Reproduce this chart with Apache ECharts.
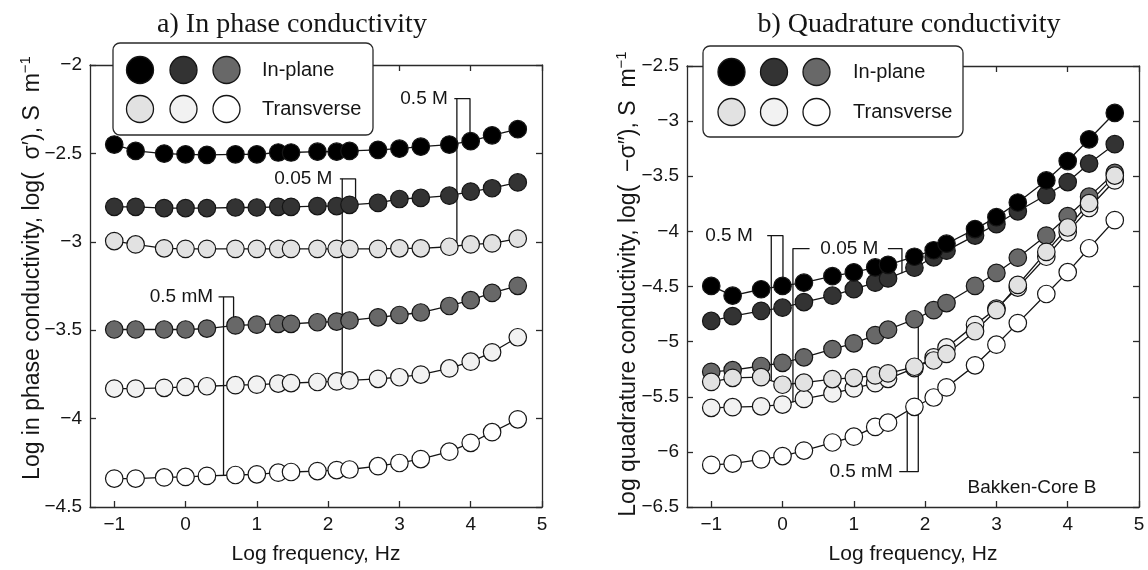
<!DOCTYPE html>
<html>
<head>
<meta charset="utf-8">
<script src="https://cdn.jsdelivr.net/npm/echarts@6/dist/echarts.min.js"></script>
<style>
  html, body { margin: 0; padding: 0; background: #fff; }
  #chart { width: 1148px; height: 570px; }
</style>
</head>
<body>
<div id="chart"></div>
<script>
// Log frequency (Hz) of the spectral measurements
const logFreq = [-1, -0.7, -0.3, 0, 0.3, 0.7, 1, 1.3, 1.48, 1.85, 2.12, 2.3, 2.7, 3, 3.3, 3.7, 4, 4.3, 4.66];
const xTickValues = [-1, 0, 1, 2, 3, 4, 5];

// a) In phase conductivity, log(sigma'), S/m
const phaseInPlane05M   = [-2.450, -2.486, -2.501, -2.505, -2.508, -2.505, -2.505, -2.495, -2.495, -2.490, -2.490, -2.486, -2.480, -2.473, -2.462, -2.450, -2.431, -2.398, -2.363];
const phaseInPlane005M  = [-2.802, -2.802, -2.809, -2.809, -2.809, -2.806, -2.806, -2.802, -2.802, -2.798, -2.798, -2.791, -2.780, -2.758, -2.752, -2.739, -2.716, -2.697, -2.664];
const phaseInPlane05mM  = [-3.496, -3.496, -3.496, -3.496, -3.491, -3.473, -3.469, -3.464, -3.464, -3.455, -3.451, -3.445, -3.427, -3.414, -3.400, -3.363, -3.330, -3.289, -3.249];
const phaseTransv05M    = [-2.996, -3.015, -3.037, -3.040, -3.040, -3.040, -3.040, -3.040, -3.040, -3.040, -3.040, -3.040, -3.040, -3.037, -3.037, -3.028, -3.015, -3.009, -2.982];
const phaseTransv005M   = [-3.830, -3.830, -3.826, -3.821, -3.817, -3.811, -3.808, -3.802, -3.799, -3.793, -3.790, -3.784, -3.775, -3.766, -3.751, -3.716, -3.678, -3.625, -3.540];
const phaseTransv05mM   = [-4.339, -4.339, -4.333, -4.330, -4.324, -4.319, -4.315, -4.306, -4.302, -4.297, -4.291, -4.288, -4.269, -4.251, -4.229, -4.187, -4.137, -4.077, -4.004];

// b) Quadrature conductivity, log(-sigma''), S/m
const quadInPlane05M    = [-4.495, -4.583, -4.525, -4.495, -4.465, -4.406, -4.371, -4.327, -4.303, -4.230, -4.171, -4.112, -3.979, -3.871, -3.738, -3.538, -3.362, -3.165, -2.926];
const quadInPlane005M   = [-4.812, -4.768, -4.721, -4.692, -4.641, -4.583, -4.524, -4.465, -4.427, -4.330, -4.235, -4.175, -4.038, -3.935, -3.818, -3.670, -3.553, -3.385, -3.209];
const quadInPlane05mM   = [-5.274, -5.259, -5.221, -5.192, -5.142, -5.068, -5.015, -4.941, -4.892, -4.797, -4.715, -4.650, -4.495, -4.377, -4.239, -4.038, -3.862, -3.685, -3.470];
const quadTransv05M     = [-5.365, -5.328, -5.322, -5.391, -5.372, -5.340, -5.328, -5.307, -5.288, -5.228, -5.171, -5.112, -4.906, -4.715, -4.486, -4.186, -3.965, -3.744, -3.494];
const quadTransv005M    = [-5.600, -5.595, -5.587, -5.571, -5.520, -5.470, -5.424, -5.377, -5.337, -5.240, -5.142, -5.053, -4.848, -4.700, -4.510, -4.230, -4.009, -3.788, -3.538];
const quadTransv05mM    = [-6.118, -6.106, -6.068, -6.038, -5.988, -5.915, -5.862, -5.774, -5.735, -5.591, -5.507, -5.415, -5.215, -5.028, -4.832, -4.568, -4.370, -4.153, -3.898];

// Salinity brackets (data units): text anchor plus the bracket polylines
const bracketsPhase = [
  { text: '0.5 M',  anchor: [3.77, -2.19],   gap: 6, paths: [[[3.77, -2.19], [3.99, -2.19], [3.99, -2.43]], [[3.806, -2.19], [3.806, -3.028]]] },
  { text: '0.05 M', anchor: [2.165, -2.644], gap: 7, paths: [[[2.165, -2.644], [2.385, -2.644], [2.385, -2.79]], [[2.198, -2.644], [2.198, -3.79]]] },
  { text: '0.5 mM', anchor: [0.463, -3.312], gap: 5, paths: [[[0.463, -3.312], [0.674, -3.312], [0.674, -3.47]], [[0.533, -3.312], [0.533, -4.32]]] }
];
const bracketsQuad = [
  { text: '0.5 M',  anchor: [-0.215, -4.038], gap: 14, paths: [[[-0.215, -4.038], [0.006, -4.038], [0.006, -4.49]], [[-0.158, -4.038], [-0.158, -5.347]]] },
  { text: '0.05 M', anchor: [1.478, -4.156],  gap: 9,  paths: [[[0.146, -5.55], [0.146, -4.156], [0.379, -4.156]], [[1.478, -4.156], [1.675, -4.156], [1.675, -4.38]]] },
  { text: '0.5 mM', anchor: [1.637, -6.18],   gap: 6,  paths: [[[1.637, -6.18], [1.904, -6.18], [1.904, -4.797]], [[1.749, -6.18], [1.749, -5.63]]] }
];

const SANS = '"Liberation Sans", Arial, Helvetica, sans-serif';
const SERIF = '"Liberation Serif", "Times New Roman", serif';
const INK = '#151515';
const AXIS = '#2a2a2a';

// marker fills, in-plane (dark) and transverse (light)
const FILL = {
  ip05M: '#000000', ip005M: '#333333', ip05mM: '#686868',
  tr05M: '#e2e2e2', tr005M: '#f2f2f2', tr05mM: '#ffffff'
};

const minusFmt = v => (v < 0 ? '\u2212' + Math.abs(v) : String(v));

function xAxesFor(grid) {
  const base = {
    type: 'value', gridIndex: grid, min: -1.34, max: 5,
    axisLine: { show: true, onZero: false, lineStyle: { color: AXIS, width: 1.3 } },
    axisTick: { show: true, inside: true, length: 6, customValues: xTickValues, lineStyle: { color: AXIS, width: 1.3 } },
    splitLine: { show: false }
  };
  return [
    Object.assign({}, base, {
      position: 'bottom',
      axisLabel: { customValues: xTickValues, formatter: minusFmt, fontSize: 19, fontFamily: SANS, color: INK, margin: 8 },
      name: 'Log frequency, Hz', nameLocation: 'middle', nameGap: 37,
      nameTextStyle: { fontSize: 21, fontFamily: SANS, color: INK }
    }),
    Object.assign({}, base, { position: 'top', axisLabel: { show: false } })
  ];
}

function yAxesFor(grid, min, max) {
  const base = {
    type: 'value', gridIndex: grid, min: min, max: max, interval: 0.5,
    axisLine: { show: true, onZero: false, lineStyle: { color: AXIS, width: 1.3 } },
    axisTick: { show: true, inside: true, length: 6, lineStyle: { color: AXIS, width: 1.3 } },
    splitLine: { show: false }
  };
  return [
    Object.assign({}, base, {
      position: 'left',
      axisLabel: { formatter: minusFmt, fontSize: 19, fontFamily: SANS, color: INK, margin: 8 }
    }),
    Object.assign({}, base, { position: 'right', axisLabel: { show: false } })
  ];
}

function dataSeries(name, values, fill, grid) {
  return {
    name: name, type: 'line',
    xAxisIndex: grid * 2, yAxisIndex: grid * 2,
    data: logFreq.map((f, i) => [f, values[i]]),
    symbol: 'circle', symbolSize: 17.5, showSymbol: true,
    lineStyle: { color: INK, width: 1.3 },
    itemStyle: { color: fill, borderColor: INK, borderWidth: 1.2 },
    z: 3, silent: true
  };
}

function bracketSeries(list, grid) {
  const out = [];
  list.forEach(b => {
    b.paths.forEach(p => {
      out.push({
        type: 'line', xAxisIndex: grid * 2, yAxisIndex: grid * 2,
        data: p, symbol: 'none', showSymbol: false,
        lineStyle: { color: INK, width: 1.3 }, z: 2, silent: true
      });
    });
    out.push({
      type: 'scatter', xAxisIndex: grid * 2, yAxisIndex: grid * 2,
      data: [{ value: b.anchor }], symbolSize: 1,
      itemStyle: { color: 'rgba(0,0,0,0)', opacity: 1 },
      label: { show: true, position: 'left', distance: b.gap, formatter: b.text,
               fontSize: 19, fontFamily: SANS, color: INK, opacity: 1 },
      z: 4, silent: true
    });
  });
  return out;
}

// Legend boxes: three in-plane markers on the first row, three transverse on the second
function legendBox(x, y, w, h, colX, rowY, textX) {
  const els = [{
    type: 'rect', z: 100,
    shape: { x: x, y: y, width: w, height: h, r: 7 },
    style: { fill: '#fff', stroke: AXIS, lineWidth: 1.3 }
  }];
  const rows = [[FILL.ip05M, FILL.ip005M, FILL.ip05mM], [FILL.tr05M, FILL.tr005M, FILL.tr05mM]];
  const labels = ['In-plane', 'Transverse'];
  rows.forEach((row, r) => {
    row.forEach((c, k) => {
      els.push({ type: 'circle', z: 101, shape: { cx: colX[k], cy: rowY[r], r: 13.5 },
                 style: { fill: c, stroke: INK, lineWidth: 1.3 } });
    });
    els.push({ type: 'text', z: 101, x: textX, y: rowY[r],
               style: { text: labels[r], fontSize: 20, fontFamily: SANS, fill: INK, align: 'left', verticalAlign: 'middle' } });
  });
  return els;
}

function yLabel(x, y, main) {
  return {
    type: 'text', z: 50, x: x, y: y, rotation: Math.PI / 2,
    style: {
      text: '{t|' + main + '}{s|\u22121}',
      align: 'center', verticalAlign: 'middle',
      rich: {
        t: { fontSize: 23, fontFamily: SANS, fill: INK, lineHeight: 26, verticalAlign: 'bottom' },
        s: { fontSize: 15, fontFamily: SANS, fill: INK, lineHeight: 15, verticalAlign: 'top', padding: [0, 0, 19, 0] }
      }
    }
  };
}

const graphics = [
  { type: 'text', z: 50, x: 292, y: 25,
    style: { text: 'a) In phase conductivity', fontSize: 28, fontFamily: SERIF, fill: INK, align: 'center', verticalAlign: 'middle' } },
  { type: 'text', z: 50, x: 909, y: 25,
    style: { text: 'b) Quadrature conductivity', fontSize: 28, fontFamily: SERIF, fill: INK, align: 'center', verticalAlign: 'middle' } },
  yLabel(31, 268, 'Log in phase conductivity, log(  \u03c3\u2032), S  m'),
  yLabel(627, 284, 'Log quadrature conductivity, log(  \u2212\u03c3\u2033), S  m'),
  { type: 'text', z: 50, x: 1032, y: 488,
    style: { text: 'Bakken-Core B', fontSize: 19, fontFamily: SANS, fill: INK, align: 'center', verticalAlign: 'middle' } }
].concat(
  legendBox(113, 43, 260, 92, [140, 183.5, 226.5], [70, 109], 262),
  legendBox(703, 46, 260, 91, [731.5, 774, 816.5], [72, 112], 853)
);

const option = {
  animation: false,
  backgroundColor: '#ffffff',
  grid: [
    { left: 90, top: 65, width: 452, height: 453 },
    { left: 687, top: 66, width: 452, height: 452 }
  ],
  xAxis: xAxesFor(0).concat(xAxesFor(1)),
  yAxis: yAxesFor(0, -4.5, -2).concat(yAxesFor(1, -6.5, -2.5)),
  series: [
    // a) in phase
    dataSeries('0.5 mM transverse', phaseTransv05mM, FILL.tr05mM, 0),
    dataSeries('0.05 M transverse', phaseTransv005M, FILL.tr005M, 0),
    dataSeries('0.5 mM in-plane', phaseInPlane05mM, FILL.ip05mM, 0),
    dataSeries('0.5 M transverse', phaseTransv05M, FILL.tr05M, 0),
    dataSeries('0.05 M in-plane', phaseInPlane005M, FILL.ip005M, 0),
    dataSeries('0.5 M in-plane', phaseInPlane05M, FILL.ip05M, 0),
    // b) quadrature
    dataSeries('0.5 mM transverse', quadTransv05mM, FILL.tr05mM, 1),
    dataSeries('0.05 M transverse', quadTransv005M, FILL.tr005M, 1),
    dataSeries('0.5 mM in-plane', quadInPlane05mM, FILL.ip05mM, 1),
    dataSeries('0.5 M transverse', quadTransv05M, FILL.tr05M, 1),
    dataSeries('0.05 M in-plane', quadInPlane005M, FILL.ip005M, 1),
    dataSeries('0.5 M in-plane', quadInPlane05M, FILL.ip05M, 1)
  ].concat(bracketSeries(bracketsPhase, 0), bracketSeries(bracketsQuad, 1)),
  graphic: graphics
};

const chart = echarts.init(document.getElementById('chart'), null, { renderer: 'canvas' });
chart.setOption(option);
</script>
</body>
</html>
